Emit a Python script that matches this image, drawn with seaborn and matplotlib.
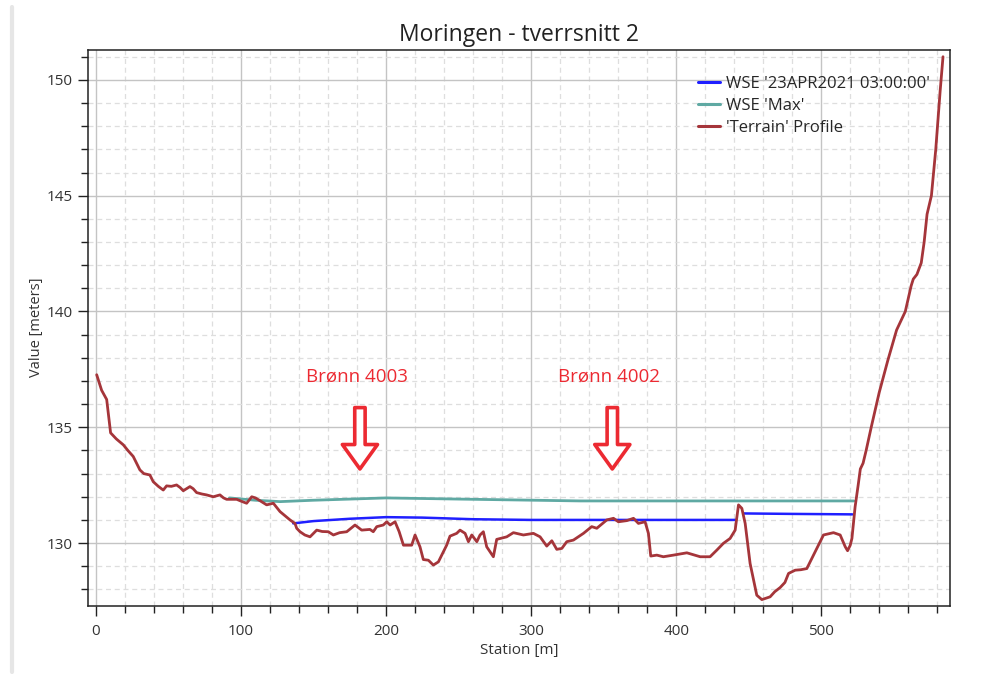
import numpy as np
import pandas as pd
import matplotlib
matplotlib.use("Agg")
import matplotlib.pyplot as plt
from matplotlib.lines import Line2D
from matplotlib.ticker import MultipleLocator
import seaborn as sns

# terrain profile (station m, elevation m)
terrain_st = [0.5, 3.9, 7.4, 10.1, 14, 18.9, 22, 25.7, 30.3, 33, 37.2, 39.5, 43, 46.4, 48.7,
              52, 55.6, 58, 60.2, 64.8, 67, 69.4, 73, 76.3, 80.9, 85.5, 88, 90.1, 97, 100.5,
              103.9, 107.4, 110, 113.1, 117.7, 122.3, 126.9, 130, 133.8, 137.2, 138.4, 140.7,
              144, 147.6, 152.2, 156, 160.2, 163.7, 168, 172.9, 178.6, 183.2, 188.9, 191.2,
              193.6, 198.1, 200.5, 202.8, 206.2, 209, 212, 217.7, 220, 223.4, 225.7, 229.2,
              232.6, 236.1, 241.8, 244.1, 248.7, 251, 254.5, 256.8, 259.1, 262.6, 264.8,
              267.1, 269.4, 272, 274, 276.3, 283.2, 287.8, 294.7, 301.6, 306.2, 310.8, 314.3,
              317.7, 321.2, 324.6, 329.2, 336.1, 341.8, 345.3, 352.2, 356.8, 360.2, 366,
              370.6, 374, 378.6, 380.9, 382.5, 386.7, 391.2, 398.1, 407.4, 416.6, 423.4,
              428.1, 432.6, 437.2, 440.7, 443, 445.3, 447.6, 451, 455.6, 459.1, 464.8, 468,
              471.7, 475, 477.5, 482.1, 486, 490.1, 494.7, 498, 501.6, 508.5, 513.1, 516.6,
              518.2, 520, 521.2, 523.4, 525.5, 527, 528.9, 531, 534.5, 540, 546, 552, 558,
              562, 563.5, 566, 569, 571, 573, 576, 579, 582, 584]
terrain_el = [137.27, 136.6, 136.2, 134.76, 134.5, 134.24, 134.0, 133.74, 133.16, 133.0,
              132.94, 132.65, 132.45, 132.29, 132.47, 132.45, 132.51, 132.4, 132.26, 132.44,
              132.35, 132.18, 132.12, 132.08, 132.0, 132.08, 131.95, 131.89, 131.89, 131.8,
              131.72, 132.0, 131.95, 131.83, 131.65, 131.72, 131.36, 131.2, 131.0, 130.85,
              130.64, 130.49, 130.35, 130.27, 130.56, 130.5, 130.49, 130.35, 130.45, 130.49,
              130.78, 130.56, 130.59, 130.49, 130.71, 130.78, 130.92, 130.78, 130.92, 130.5,
              129.91, 129.91, 130.35, 129.84, 129.29, 129.26, 129.05, 129.19, 129.91, 130.3,
              130.42, 130.56, 130.42, 130.06, 130.35, 130.06, 130.35, 130.49, 129.84, 129.6,
              129.41, 130.16, 130.27, 130.45, 130.35, 130.42, 130.27, 129.87, 130.1, 129.73,
              129.77, 130.06, 130.13, 130.42, 130.71, 130.64, 131.0, 131.07, 130.92, 130.97,
              131.07, 130.85, 130.92, 130.42, 129.44, 129.48, 129.41, 129.48, 129.58, 129.41,
              129.41, 129.7, 129.99, 130.2, 130.56, 131.65, 131.5, 130.85, 129.12, 127.75,
              127.56, 127.68, 127.9, 128.08, 128.3, 128.69, 128.83, 128.85, 128.9, 129.48,
              129.9, 130.35, 130.45, 130.35, 129.84, 129.67, 129.9, 130.2, 131.57, 132.5,
              133.2, 133.45, 134.0, 135.0, 136.5, 137.9, 139.2, 140.0, 141.1, 141.4, 141.6,
              142.1, 143.0, 144.2, 145.0, 147.0, 149.5, 151.0]

# WSE at 23APR2021 03:00 (two wetted parts)
wse_a_st = [136, 150, 175, 200, 225, 260, 300, 400, 441]
wse_a_el = [130.85, 130.95, 131.05, 131.12, 131.1, 131.03, 131.0, 131.0, 131.0]
wse_b_st = [446.4, 480, 521.5]
wse_b_el = [131.28, 131.26, 131.24]

# WSE max
wse_max_st = [92, 110, 127, 150, 200, 250, 334, 450, 522.5]
wse_max_el = [131.95, 131.85, 131.79, 131.85, 131.95, 131.9, 131.82, 131.82, 131.82]

wells = ["Brønn 4003", "Brønn 4002"]
well_st = [182, 356]

labels = ["WSE '23APR2021 03:00:00'", "WSE 'Max'", "'Terrain' Profile"]
c_wse, c_max, c_ter = "#1f1fff", "#5fa9a3", "#a5353a"
c_red = "#ec2a32"

sns.set_style("white")
plt.rcParams['font.family'] = ['Open Sans', 'DejaVu Sans']

fig = plt.figure(figsize=(9.94, 6.82), dpi=100)
ax = fig.add_axes([0.0885, 0.112, 0.8675, 0.815])

sns.lineplot(x=wse_max_st, y=wse_max_el, ax=ax, color=c_max, lw=2.0, sort=False, estimator=None)
sns.lineplot(x=wse_a_st, y=wse_a_el, ax=ax, color=c_wse, lw=1.8, sort=False, estimator=None)
sns.lineplot(x=wse_b_st, y=wse_b_el, ax=ax, color=c_wse, lw=1.8, sort=False, estimator=None)
sns.lineplot(x=terrain_st, y=terrain_el, ax=ax, color=c_ter, lw=2.0, sort=False, estimator=None)

ax.set_xlim(-5.5, 589)
ax.set_ylim(127.3, 151.3)
ax.xaxis.set_major_locator(MultipleLocator(100))
ax.xaxis.set_minor_locator(MultipleLocator(20))
ax.yaxis.set_major_locator(MultipleLocator(5))
ax.yaxis.set_minor_locator(MultipleLocator(1))
ax.grid(which='major', color='#c4c4c4', lw=1.0, ls='-')
ax.grid(which='minor', color='#dedede', lw=0.9, ls=(0, (4, 3)))
ax.set_axisbelow(True)
for s in ax.spines.values():
    s.set_color('#222222')
    s.set_linewidth(1.1)
ax.tick_params(which='major', direction='out', length=7, width=1, color='#222222',
               labelsize=11, labelcolor='#333333', bottom=True, left=True, pad=4)
ax.tick_params(which='minor', direction='out', length=5, width=1, color='#222222',
               bottom=True, left=True)
ax.tick_params(axis='x', which='major', pad=6)

ax.set_title("Moringen - tverrsnitt 2", fontsize=16.5, color='#222222', pad=6)
ax.set_xlabel("Station [m]", fontsize=11, color='#333333', labelpad=3)
ax.set_ylabel("Value [meters]", fontsize=10.5, color='#333333', labelpad=2)

# well annotations with hollow arrows
for name, st in zip(wells, well_st):
    ax.text(st - 2, 137.2, name, color=c_red, fontsize=13.5, ha='center', va='center')
    ax.annotate('', xy=(st, 133.2), xytext=(st, 135.85),
                arrowprops=dict(arrowstyle='simple,head_length=0.8,head_width=1.15,tail_width=0.34',
                                mutation_scale=22, fc='white', ec=c_red, lw=2.6,
                                shrinkA=0, shrinkB=0))

handles = [Line2D([], [], color=c_wse, lw=2.2),
           Line2D([], [], color=c_max, lw=2.2),
           Line2D([], [], color=c_ter, lw=2.2)]
ax.legend(handles, labels, loc='upper left', bbox_to_anchor=(0.708, 0.953), frameon=False,
          fontsize=12, handlelength=1.3, handletextpad=0.35, labelspacing=0.36,
          borderaxespad=0, borderpad=0)

# side panel border of the original screenshot
fig.add_artist(Line2D([0.012, 0.012], [0.015, 0.99], color='#e6e6e6', lw=3))

fig.savefig("out.png", dpi=100)
